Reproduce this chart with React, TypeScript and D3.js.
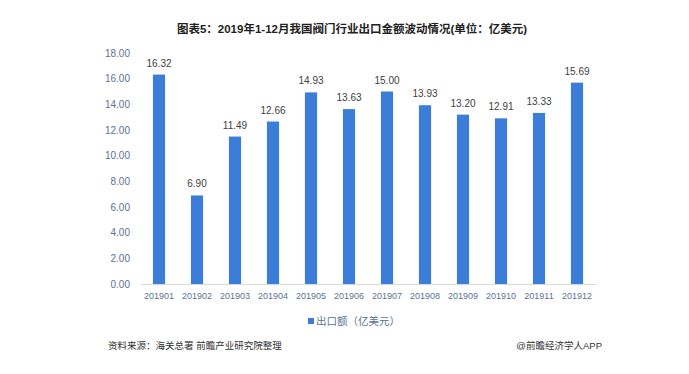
import { useEffect, useRef } from 'react';
import * as d3 from 'd3';

const months = ['201901', '201902', '201903', '201904', '201905', '201906', '201907', '201908', '201909', '201910', '201911', '201912'];
const exportValues = [16.32, 6.9, 11.49, 12.66, 14.93, 13.63, 15.0, 13.93, 13.2, 12.91, 13.33, 15.69];
const yTicks = [0, 2, 4, 6, 8, 10, 12, 14, 16, 18];
const title = '图表5：2019年1-12月我国阀门行业出口金额波动情况(单位：亿美元)';
const legendLabel = '出口额（亿美元）';
const sourceText = '资料来源：海关总署 前瞻产业研究院整理';
const brandText = '@前瞻经济学人APP';

const W = 689;
const H = 374;
const font = '"Liberation Sans", "Noto Sans CJK SC", sans-serif';
const barColor = '#3b7dd8';
const axisText = '#5b7295';

const App = () => {
  const ref = useRef<SVGSVGElement>(null);

  useEffect(() => {
    const svg = d3.select(ref.current);
    svg.selectAll('*').remove();

    const margin = { top: 53, left: 140, right: W - 596, bottom: H - 284 };
    const innerW = W - margin.left - margin.right;
    const innerH = H - margin.top - margin.bottom;

    const x = d3.scaleBand().domain(months).range([0, innerW]).paddingInner(0.68).paddingOuter(0.34);
    const y = d3.scaleLinear().domain([0, 18]).range([innerH, 0]);

    svg.append('rect').attr('width', W).attr('height', H).attr('fill', '#fff');

    svg.append('text').text(title)
      .attr('x', 352).attr('y', 33)
      .attr('text-anchor', 'middle')
      .attr('font-family', font).attr('font-size', 11.5).attr('font-weight', 'bold')
      .attr('fill', '#222');

    const g = svg.append('g').attr('transform', `translate(${margin.left},${margin.top})`);

    // y axis: labels only
    const yAxis = g.append('g').call(d3.axisLeft(y).tickValues(yTicks).tickFormat(d3.format('.2f')).tickSize(0).tickPadding(10));
    yAxis.select('.domain').remove();
    yAxis.selectAll('text').attr('font-family', font).attr('font-size', 10).attr('fill', axisText);

    const xAxis = g.append('g').attr('transform', `translate(0,${innerH})`)
      .call(d3.axisBottom(x).tickSize(0).tickPadding(9));
    xAxis.select('.domain').attr('stroke', '#d9d9d9');
    xAxis.selectAll('text').attr('font-family', font).attr('font-size', 9).attr('fill', axisText);

    g.selectAll('rect.bar').data(exportValues).enter().append('rect')
      .attr('class', 'bar')
      .attr('x', (_, i) => x(months[i]) as number)
      .attr('y', d => y(d))
      .attr('width', x.bandwidth())
      .attr('height', d => innerH - y(d))
      .attr('fill', barColor);

    g.selectAll('text.lbl').data(exportValues).enter().append('text')
      .attr('class', 'lbl')
      .attr('x', (_, i) => (x(months[i]) as number) + x.bandwidth() / 2)
      .attr('y', d => y(d) - 8)
      .attr('text-anchor', 'middle')
      .attr('font-family', font).attr('font-size', 10)
      .attr('fill', '#404040')
      .text(d => d.toFixed(2));

    // legend
    const lg = svg.append('g').attr('transform', 'translate(308,321)');
    lg.append('rect').attr('x', 0).attr('y', -3).attr('width', 6).attr('height', 6).attr('fill', barColor);
    lg.append('text').text(legendLabel)
      .attr('x', 8).attr('y', 4)
      .attr('font-family', font).attr('font-size', 10.5).attr('fill', axisText);

    svg.append('text').text(sourceText)
      .attr('x', 108).attr('y', 349)
      .attr('font-family', font).attr('font-size', 9.5).attr('fill', '#333');
    svg.append('text').text(brandText)
      .attr('x', 602).attr('y', 349).attr('text-anchor', 'end')
      .attr('font-family', font).attr('font-size', 9.5).attr('fill', '#333');
  }, []);

  return (
    <div>
      <svg ref={ref} width={W} height={H} style={{ display: 'block', margin: -8 }} />
    </div>
  );
};

export default App;
